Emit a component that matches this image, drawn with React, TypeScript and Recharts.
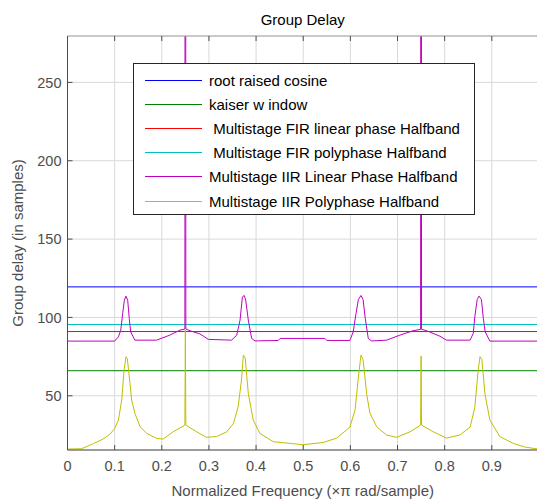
import { LineChart, Line, XAxis, YAxis, CartesianGrid, Legend } from "recharts";

// normalized frequency (x pi rad/sample) and group delay (samples)
const FREQ_TICKS = [0, 0.1, 0.2, 0.3, 0.4, 0.5, 0.6, 0.7, 0.8, 0.9];
const DELAY_TICKS = [50, 100, 150, 200, 250];
const FREQ_DOMAIN: [number, number] = [0, 0.998];
const DELAY_DOMAIN: [number, number] = [15.4, 279.6];

const SERIES_NAMES = [
  "root raised cosine",
  "kaiser w indow",
  " Multistage FIR linear phase Halfband",
  " Multistage FIR polyphase Halfband",
  "Multistage IIR Linear Phase Halfband",
  "Multistage IIR Polyphase Halfband",
];
const SERIES_COLORS = ["#0000ff", "#008000", "#ff0000", "#00bfbf", "#bf00bf", "#bfbf00"];

const RRC = [[0, 119.5], [0.998, 119.5]];
const KAISER = [[0, 66], [0.998, 66]];
const FIR_LINEAR = [[0, 91], [0.998, 91]];
const FIR_POLY = [[0, 95.5], [0.998, 95.5]];

const IIR_LINEAR = [
  [0, 84.9], [0.1, 84.9], [0.108, 87.6], [0.113, 91.9], [0.117, 102.5], [0.1206, 111],
  [0.124, 113.6], [0.1277, 111], [0.131, 99.4], [0.134, 90.8], [0.143, 85.5], [0.189, 85.5],
  [0.217, 88.7], [0.2386, 91.9], [0.249, 92.6], [0.25, 1000], [0.251, 92.6], [0.26, 91.5],
  [0.281, 89.5], [0.2986, 86], [0.348, 85.5], [0.359, 88.7], [0.366, 98.3], [0.371, 113.1],
  [0.375, 114], [0.378, 111], [0.3835, 98.3], [0.3906, 86.6], [0.3977, 85], [0.447, 85.3],
  [0.451, 86.6], [0.546, 86.6], [0.55, 85.3], [0.599, 85.3], [0.606, 90.8], [0.612, 102.5],
  [0.617, 111.4], [0.6225, 114], [0.627, 111.4], [0.6316, 99.4], [0.638, 86.6], [0.645, 85],
  [0.677, 85.5], [0.705, 88.7], [0.733, 91.5], [0.749, 92.4], [0.75, 1000], [0.751, 92.4],
  [0.762, 91.5], [0.79, 88], [0.804, 85.5], [0.854, 85.5], [0.8607, 89.9], [0.864, 100.5],
  [0.869, 111.4], [0.873, 113.6], [0.878, 111.4], [0.882, 99.4], [0.886, 90.8], [0.896, 84.9],
  [0.998, 84.9],
];

const IIR_POLY = [
  [0, 16], [0.03, 16.2], [0.055, 19.5], [0.075, 22.3], [0.09, 25.5], [0.1, 29], [0.108, 34.5],
  [0.115, 47.3], [0.12, 66.4], [0.124, 74.9], [0.127, 73.5], [0.1326, 57.9], [0.136, 47.3],
  [0.143, 38.8], [0.154, 30.2], [0.168, 26], [0.189, 22.8], [0.203, 22.4], [0.224, 27],
  [0.249, 31.3], [0.25, 92], [0.251, 31.3], [0.274, 27], [0.295, 23.5], [0.316, 24],
  [0.338, 27], [0.352, 32.4], [0.362, 43], [0.369, 60], [0.373, 76], [0.377, 74], [0.3835, 51.5],
  [0.394, 34.5], [0.408, 26], [0.4365, 20.7], [0.479, 19.4], [0.5, 18.8], [0.5425, 20.2],
  [0.571, 23], [0.599, 30], [0.61, 41], [0.617, 62], [0.6225, 76], [0.627, 73], [0.6346, 51],
  [0.6416, 38.8], [0.656, 30.2], [0.677, 24.9], [0.698, 23.5], [0.7265, 27], [0.749, 31.3],
  [0.75, 75.3], [0.751, 31.3], [0.776, 27], [0.804, 23], [0.8325, 25], [0.854, 30], [0.864, 42.7],
  [0.871, 66], [0.875, 75], [0.879, 73], [0.8855, 51], [0.896, 34.5], [0.917, 24], [0.9455, 19.6],
  [0.97, 17.3], [0.998, 16],
];

const SERIES_POINTS = [RRC, KAISER, FIR_LINEAR, FIR_POLY, IIR_LINEAR, IIR_POLY];

const toRows = (pts: number[][]) => pts.map(([f, gd]) => ({ f, gd }));

const FONT = '"Liberation Sans", Arial, sans-serif';
const AXIS_GRAY = "#4d4d4d";

function GroupDelayLegend() {
  return (
    <div
      style={{
        width: 342,
        height: 152,
        boxSizing: "border-box",
        border: "1px solid #262626",
        background: "#fff",
        paddingTop: 4,
        fontFamily: FONT,
        fontSize: 15,
        color: "#000",
      }}
    >
      {SERIES_NAMES.map((name, i) => (
        <div key={name} style={{ height: 24.2, display: "flex", alignItems: "center" }}>
          <div style={{ marginLeft: 11, width: 57, height: 1, background: SERIES_COLORS[i] }} />
          <span style={{ marginLeft: 7, whiteSpace: "pre" }}>{name}</span>
        </div>
      ))}
    </div>
  );
}

export default function App() {
  return (
    <div
      style={{
        position: "absolute",
        left: 0,
        top: 0,
        width: 537,
        height: 502,
        overflow: "hidden",
        background: "#fff",
        fontFamily: FONT,
      }}
    >
      <LineChart width={545} height={502} margin={{ top: 0, right: 7, bottom: 0, left: 0 }}>
        <CartesianGrid stroke="#d9d9d9" />
        <XAxis
          xAxisId="top"
          orientation="top"
          type="number"
          dataKey="f"
          domain={FREQ_DOMAIN}
          ticks={FREQ_TICKS}
          height={36}
          allowDataOverflow
          axisLine={{ stroke: "#a6a6a6" }}
          tickLine={{ stroke: "#4d4d4d" }}
          tickSize={-5}
          tickFormatter={() => ""}
          label={{
            content: ({ viewBox }: any) => (
              <text
                x={viewBox.x + viewBox.width / 2}
                y={19}
                textAnchor="middle"
                dominantBaseline="central"
                fontSize={15}
                fill="#000"
                fontFamily={FONT}
              >
                Group Delay
              </text>
            ),
          }}
        />
        <XAxis
          type="number"
          dataKey="f"
          domain={FREQ_DOMAIN}
          ticks={FREQ_TICKS}
          height={52}
          allowDataOverflow
          axisLine={{ stroke: "#4d4d4d" }}
          tickLine={{ stroke: "#4d4d4d" }}
          tickSize={-5}
          tickMargin={16}
          tick={{ fontSize: 14.5, fill: AXIS_GRAY, fontFamily: FONT }}
          label={{
            content: ({ viewBox }: any) => (
              <text
                x={viewBox.x + viewBox.width / 2}
                y={490}
                textAnchor="middle"
                dominantBaseline="central"
                fontSize={15}
                fill={AXIS_GRAY}
                fontFamily={FONT}
              >
                Normalized Frequency (×π rad/sample)
              </text>
            ),
          }}
        />
        <YAxis
          type="number"
          domain={DELAY_DOMAIN}
          ticks={DELAY_TICKS}
          width={67.5}
          allowDataOverflow
          axisLine={{ stroke: "#4d4d4d" }}
          tickLine={{ stroke: "#4d4d4d" }}
          tickSize={-5}
          tickMargin={11}
          tick={{ fontSize: 14.5, fill: AXIS_GRAY, fontFamily: FONT }}
          label={{
            content: ({ viewBox }: any) => (
              <text
                x={17}
                y={viewBox.y + viewBox.height / 2}
                textAnchor="middle"
                dominantBaseline="central"
                fontSize={15}
                fill={AXIS_GRAY}
                fontFamily={FONT}
                transform={`rotate(-90 17 ${viewBox.y + viewBox.height / 2})`}
              >
                Group delay (in samples)
              </text>
            ),
          }}
        />
        {SERIES_POINTS.map((pts, i) => (
          <Line
            key={SERIES_NAMES[i]}
            data={toRows(pts)}
            dataKey="gd"
            name={SERIES_NAMES[i]}
            stroke={SERIES_COLORS[i]}
            strokeWidth={1}
            dot={false}
            activeDot={false}
            isAnimationActive={false}
          />
        ))}
        <Legend
          layout="vertical"
          align="center"
          verticalAlign="middle"
          content={() => <GroupDelayLegend />}
          wrapperStyle={{ left: 133, top: 63, width: 342, height: 152 }}
        />
      </LineChart>
    </div>
  );
}
